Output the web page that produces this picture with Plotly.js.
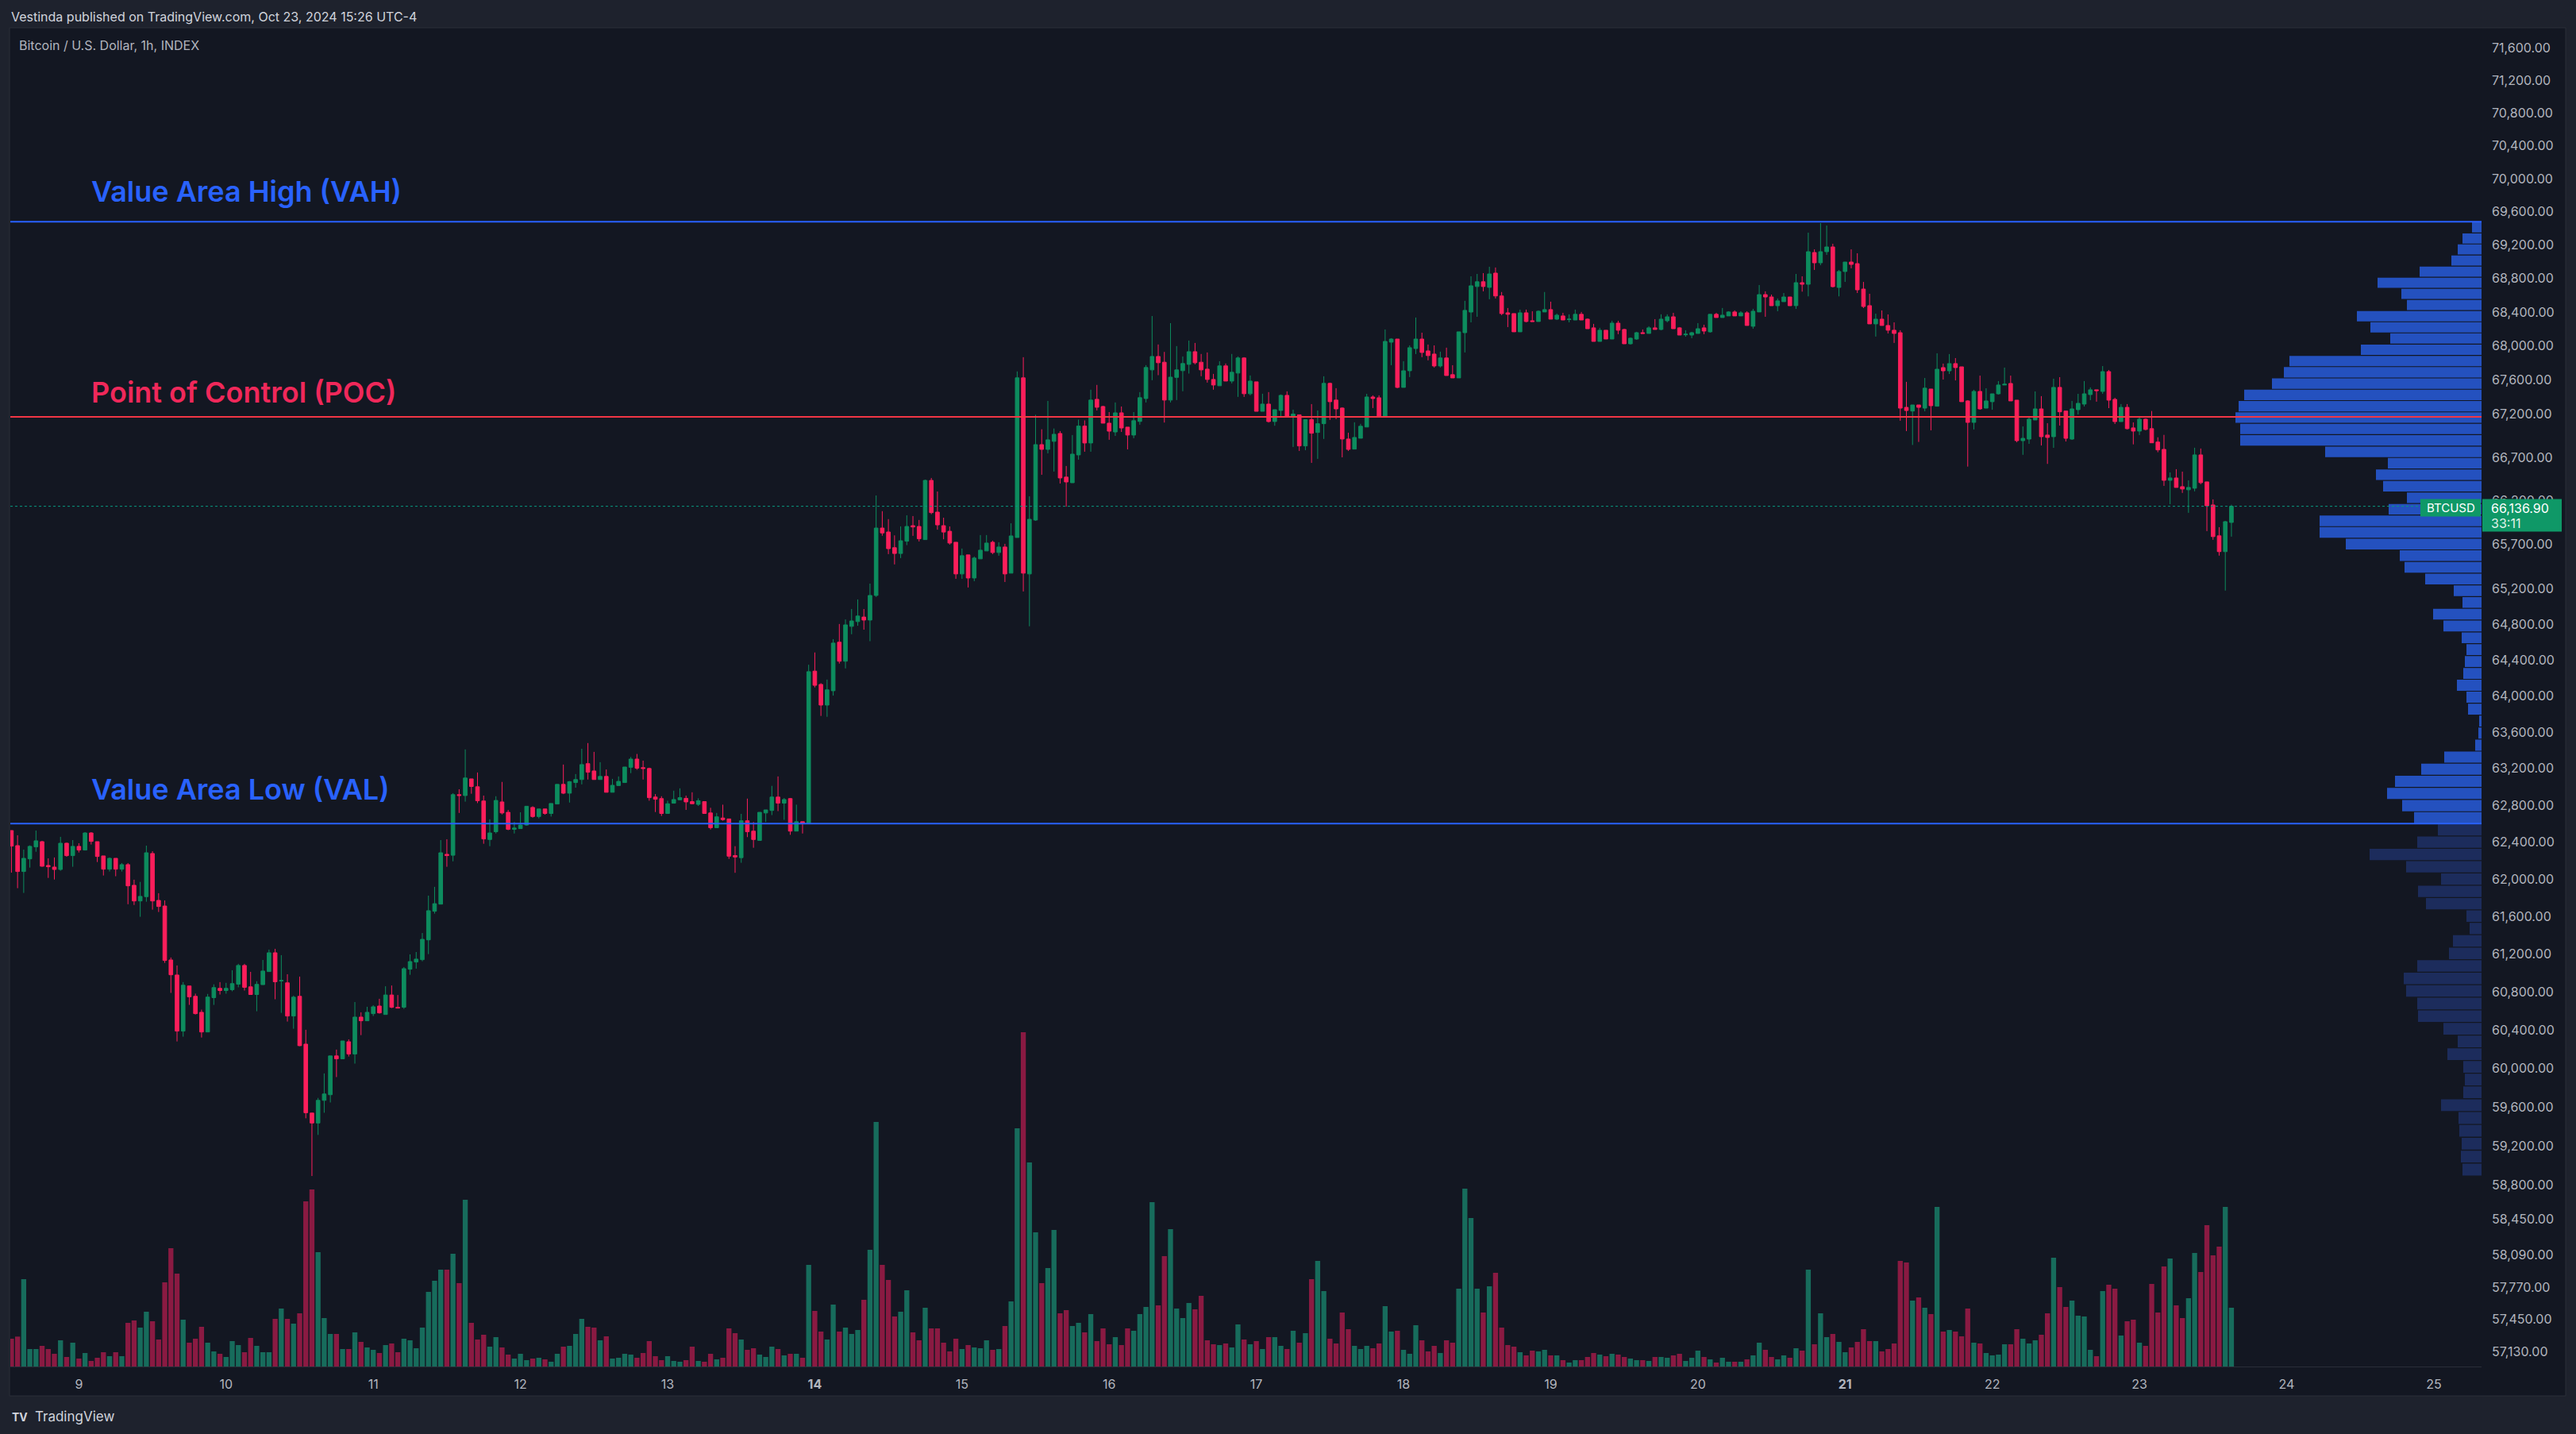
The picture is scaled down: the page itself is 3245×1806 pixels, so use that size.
<!DOCTYPE html>
<html><head><meta charset="utf-8">
<script src="https://cdn.plot.ly/plotly-3.0.1.min.js"></script>
<style>html,body{margin:0;padding:0;background:#1e222d;}#chart{width:3245px;height:1806px;}</style>
</head><body><div id="chart"></div>
<script>
// hourly candles, first bar 2024-10-08 13:00, last bar 2024-10-23 15:00
const firstBar = Date.UTC(2024, 9, 8, 13);
const openP = [
62524,62361,62082,62218,62347,62404,62147,62130,62104,62387,62253,
62353,62313,62498,62404,62250,62107,62224,62107,62156,61934,
61766,61812,62276,61772,61712,61138,60979,60389,60863,60754,
60586,60380,60740,60838,60815,60824,60882,61080,60854,60773,
60877,61015,61214,60916,60896,60547,60754,60253,59538,59435,
59669,59727,60130,60100,60278,60150,60536,60497,60572,60652,
60563,60768,60639,60639,61040,61116,61141,61351,61656,61732,
62267,62257,62914,62904,63086,63000,62845,62427,62511,62835,
62722,62538,62545,62584,62775,62676,62758,62709,62812,63026,
62930,63046,63079,63253,63173,63079,63113,62940,63013,63046,
63213,63303,63209,63200,62888,62871,62709,62821,62858,62874,
62838,62808,62838,62715,62555,62660,62650,62254,62231,62630,
62518,62417,62715,62742,62888,62822,62871,62518,62620,62600,
64275,64127,63898,64057,64598,64385,64775,64829,64880,64846,
65123,65888,65843,65664,65598,65738,65915,65906,65756,66434,
66070,65915,65851,65726,65366,65582,65320,65537,65627,65726,
65609,65672,65375,65780,67625,65366,65979,66847,66792,66885,
66976,66472,66407,66728,67062,66866,67374,67290,67096,66994,
67216,67050,66958,67116,67383,67718,67876,67808,67365,67630,
67709,67783,67932,67808,67727,67606,67532,67765,67587,67681,
67858,67439,67578,67234,67318,67115,67244,67420,67165,67193,
66832,67137,66988,67090,67560,67365,67272,66912,66795,66921,
67051,67401,67392,67179,68044,68081,67513,67708,67969,68081,
67941,67904,67764,67858,67662,67624,68156,68400,68703,68760,
68693,68863,68591,68391,68382,68166,68391,68297,68288,68401,
68429,68316,68354,68310,68306,68373,68316,68213,68053,68185,
68081,68269,68194,68025,68081,68156,68147,68213,68194,68297,
68344,68213,68131,68128,68147,68213,68166,68373,68335,68354,
68401,68354,68391,68232,68401,68607,68579,68475,68523,68579,
68476,68749,68730,69109,68986,69119,69176,68692,68882,68995,
68976,68673,68476,68260,68316,68241,68185,68156,67280,67237,
67308,67271,67494,67293,67745,67707,67792,67754,67355,67105,
67466,67271,67346,67438,67541,67559,67364,66893,66911,67133,
67262,66958,66939,67513,67237,66911,67253,67318,67429,67485,
67466,67698,67373,67114,67280,67041,67004,67142,67032,66877,
66792,66435,66462,66362,66326,66344,66728,66417,66152,65799,65619,65952];
const highP = [
62524,62473,62318,62364,62524,62413,62224,62233,62456,62393,62421,
62387,62507,62507,62404,62250,62233,62224,62173,62173,61994,
61970,62361,62301,61849,61772,61164,61080,60904,60863,60782,
60614,60779,60880,60904,60896,61029,61097,61097,61012,60913,
61138,61248,61256,61189,60987,60762,60962,60403,59538,59694,
59948,60130,60196,60286,60303,60694,60586,60644,60661,60728,
60860,60868,60768,61063,61197,61222,61424,61823,61917,62421,
62430,62930,62973,63409,63086,63156,62904,62646,62897,63053,
62748,62617,62722,62791,62788,62758,62758,62818,63026,63243,
63063,63139,63416,63479,63382,63269,63189,63086,63113,63216,
63326,63359,63286,63209,62920,62897,62848,62957,62983,62904,
62940,62874,62838,62771,62715,62805,62650,62355,62705,62871,
62617,62722,62748,63010,63113,62878,62878,62805,62620,64346,
64483,64141,64181,64632,64802,64853,64970,65078,64970,65257,
66261,66081,65990,65804,65907,66034,66025,65980,66443,66462,
66306,66006,65906,65726,65654,65582,65564,65808,65808,65744,
65726,65708,65942,67700,67867,66251,67193,67025,67355,67034,
67004,66600,66958,67137,67128,67486,67542,67299,67225,67337,
67290,67050,67225,67458,67774,68353,68017,67929,68269,67998,
67876,68063,68035,67905,67923,67671,67820,67793,67905,67876,
67867,67653,67578,67439,67458,67253,67430,67467,67253,67193,
67137,67318,67244,67643,67569,67504,67281,66985,67106,67088,
67438,67420,67420,68194,68091,68081,67820,68006,68335,68156,
68016,68006,67932,67979,67773,68166,68533,68825,68853,68863,
68939,68930,68638,68448,68382,68429,68429,68410,68420,68638,
68523,68382,68391,68373,68429,68401,68325,68260,68213,68185,
68297,68297,68203,68100,68166,68194,68232,68316,68373,68373,
68391,68222,68185,68166,68269,68250,68373,68391,68448,68410,
68420,68410,68410,68438,68721,68646,68607,68561,68626,68579,
68853,68825,69347,69147,69462,69433,69214,68901,68995,69147,
69100,68758,68617,68381,68419,68372,68278,68185,67578,67308,
67308,67623,67494,67913,67792,67904,67857,67754,67364,67485,
67651,67503,67438,67587,67745,67651,67364,67058,67161,67466,
67411,67096,67615,67633,67237,67355,67438,67587,67513,67485,
67763,67717,67392,67318,67318,67105,67161,67151,67237,66932,
66960,66526,66563,66535,66435,66811,66802,66417,66216,65898,65970,66155];
const lowP = [
62070,61903,61852,62124,62295,62133,62013,61996,62090,62241,62133,
62287,62313,62373,62184,62039,62082,62031,62082,61731,61723,
61597,61758,61673,61648,61107,60790,60281,60331,60664,60563,
60322,60380,60664,60773,60782,60807,60849,60815,60773,60597,
60877,61015,60723,60580,60489,60414,60232,59484,58892,59313,
59541,59647,59910,60100,60124,60050,60347,60497,60547,60572,
60563,60630,60630,60622,60981,61046,61124,61200,61631,61732,
62133,62192,62715,62838,62924,62822,62381,62355,62492,62699,
62528,62492,62545,62577,62663,62656,62696,62676,62812,62920,
62828,62990,63026,63079,63079,63079,62940,62940,63013,63046,
63149,63186,63079,62848,62725,62682,62709,62821,62858,62748,
62815,62791,62709,62535,62555,62630,62218,62068,62176,62453,
62338,62417,62617,62692,62735,62640,62478,62518,62492,62600,
64094,63778,63768,64003,64359,64305,64687,64782,64738,64609,
65106,65800,65591,65474,65546,65693,65799,65735,65756,66046,
65869,65760,65699,65311,65311,65213,65284,65537,65627,65591,
65573,65275,65375,65780,65168,64776,65970,66499,66746,66536,
66398,66132,66407,66673,66765,66765,67244,67096,66903,66948,
66994,66792,66921,67078,67337,67597,67656,67103,67337,67365,
67468,67675,67783,67644,67569,67486,67532,67587,67560,67402,
67402,67420,67234,67234,67103,67066,67165,67165,66820,66774,
66783,66636,66682,66913,67134,67143,66700,66774,66795,66921,
67051,67272,67170,67179,67773,67504,67513,67634,67904,67867,
67830,67746,67746,67652,67624,67624,67923,68278,68344,68646,
68552,68561,68363,68222,68166,68166,68278,68288,68288,68401,
68316,68306,68306,68278,68306,68306,68203,68053,68053,68081,
68081,68138,68025,68016,68072,68147,68147,68194,68185,68278,
68203,68128,68109,68091,68147,68138,68156,68335,68335,68354,
68354,68354,68241,68203,68401,68344,68475,68410,68523,68475,
68437,68642,68586,68901,68958,69081,68692,68586,68758,68920,
68626,68447,68260,68110,68241,68147,68035,67124,67004,66843,
66878,67234,67013,67293,67605,67670,67595,67346,66593,67023,
67252,67271,67252,67429,67541,67355,66874,66729,66856,67133,
66837,66624,66810,67068,66883,66902,67197,67290,67364,67346,
67438,67271,67086,67114,67023,66850,66958,67013,66868,66759,
66371,66161,66353,66290,66062,66308,66390,65853,65754,65574,65178,65790];
const closeP = [
62356,62082,62224,62353,62413,62139,62133,62104,62387,62253,62353,
62313,62498,62407,62244,62107,62224,62107,62156,61928,61766,
61815,62284,61766,61707,61133,60981,60389,60871,60748,60572,
60380,60746,60846,60815,60838,60888,61080,60849,60773,60880,
61021,61214,60907,60921,60547,60745,60237,59541,59435,59669,
59735,60130,60100,60286,60150,60536,60497,60586,60644,60580,
60768,60639,60630,61046,61121,61147,61357,61662,61737,62284,
62253,62914,62905,63096,63003,62848,62433,62498,62851,62715,
62538,62551,62584,62788,62676,62758,62709,62818,63026,62930,
63056,63079,63243,63160,63079,63113,62940,63016,63059,63216,
63303,63203,63200,62881,62864,62709,62815,62861,62881,62835,
62815,62848,62709,62555,62673,62643,62247,62238,62630,62511,
62427,62722,62748,62888,62822,62861,62518,62620,62600,64269,
64117,63898,64067,64588,64385,64792,64836,64891,64846,65123,
65888,65832,65653,65598,65743,65906,65900,65765,66434,66064,
65924,65842,65717,65366,65573,65320,65546,65636,65717,65609,
65672,65366,65798,67625,65375,65988,66847,66792,66903,66967,
66462,66416,66737,67062,66866,67365,67281,67096,67003,67216,
67040,66958,67125,67393,67746,67876,67802,67365,67633,67718,
67793,67932,67802,67718,67606,67541,67765,67587,67690,67858,
67439,67587,67234,67318,67115,67253,67420,67165,67202,66832,
67137,66979,67090,67560,67346,67262,66912,66792,66930,67060,
67401,67383,67179,68053,68081,67513,67708,67979,68081,67923,
67886,67764,67858,67652,67624,68166,68420,68712,68760,68703,
68853,68591,68382,68373,68166,68391,68288,68288,68410,68429,
68316,68363,68306,68316,68373,68306,68203,68053,68185,68081,
68269,68185,68025,68091,68156,68147,68213,68194,68316,68344,
68203,68128,68138,68156,68203,68175,68373,68335,68363,68401,
68354,68391,68241,68410,68607,68579,68475,68533,68579,68475,
68749,68730,69119,68986,69119,69176,68702,68882,68995,68967,
68664,68466,68260,68316,68241,68185,68147,67271,67243,67308,
67280,67504,67299,67726,67707,67792,67745,67346,67105,67466,
67262,67355,67438,67541,67550,67355,66893,66920,67142,67262,
66939,66930,67513,67228,66920,67262,67327,67438,67485,67475,
67698,67364,67114,67280,67032,67004,67142,67023,66868,66786,
66435,66462,66353,66335,66353,66728,66408,66143,65790,65619,65961,66136.9];
const volume = [
105,113,330,66,66,78,66,48,99,36,90,
30,51,21,33,54,39,54,39,165,174,
147,207,171,102,318,447,351,177,90,105,
150,90,57,48,36,96,81,54,108,78,
54,54,180,219,180,162,201,624,669,432,
183,123,123,66,66,129,93,72,63,51,
81,87,54,105,99,69,147,282,324,366,
366,426,315,630,165,102,120,75,111,72,
45,30,48,24,30,33,27,18,48,75,
78,123,180,150,147,99,114,30,33,48,
45,33,51,96,39,24,39,21,18,24,
75,21,18,48,27,33,144,126,102,63,
69,45,36,75,66,42,48,48,33,384,
210,132,102,234,132,147,123,138,252,441,
924,384,327,189,207,288,129,99,222,144,
144,90,57,105,66,81,72,69,99,63,
66,153,246,900,1263,771,507,315,372,516,
201,213,153,165,129,198,96,144,84,111,
81,144,135,198,225,621,231,417,519,219,
183,240,216,267,99,84,81,87,72,159,
102,84,96,66,111,111,78,66,135,90,
126,330,399,285,105,87,204,141,78,66,
78,69,87,228,132,135,63,48,156,99,
57,78,51,99,90,294,672,561,294,204,
303,354,147,81,75,54,42,60,57,63,
42,42,24,15,24,24,36,51,45,39,
48,45,36,30,24,24,21,36,36,33,
42,48,21,33,60,36,27,15,33,18,
18,18,27,42,90,63,36,27,42,33,
69,60,366,84,201,111,123,93,54,72,
93,141,96,96,57,66,87,399,393,249,
261,222,198,603,132,138,132,114,219,90,
87,51,42,45,84,84,141,105,87,99,
120,201,411,300,225,249,192,189,63,39,
285,309,294,117,171,177,90,78,312,204,
378,408,231,183,258,429,357,534,420,453,603,222];

// visible-range volume profile, 80 rows from the bottom
const profileBottom = 58892;
const profileRowSize = 132.3;
const profileVolume = [
24,26,25,28,29,51,23,21,23,43,
30,48,80,81,95,98,81,41,36,15,
19,70,80,51,95,141,81,55,85,100,
119,109,76,47,8,4,3,17,19,31,
23,21,19,25,48,61,24,35,71,97,
103,171,204,204,117,94,124,133,118,197,
304,304,310,306,299,264,249,242,152,115,
140,157,94,101,131,78,38,30,24,12];
const vahPrice = 69478, valPrice = 62600, pocPrice = 67170;
const lastPrice = 66136.90;
const countdown = '33:11';

const dayTicks = ['2024-10-09','2024-10-10','2024-10-11','2024-10-12','2024-10-13','2024-10-14','2024-10-15','2024-10-16','2024-10-17','2024-10-18','2024-10-19','2024-10-20','2024-10-21','2024-10-22','2024-10-23','2024-10-24','2024-10-25'];
const dayLabels = ['9','10','11','12','13','<b>14</b>','15','16','17','18','19','20','<b>21</b>','22','23','24','25'];
const priceTicks = [71600,71200,70800,70400,70000,69600,69200,68800,68400,68000,67600,67200,66700,66200,65700,65200,64800,64400,64000,63600,63200,62800,62400,62000,61600,61200,60800,60400,60000,59600,59200,58800,58450,58090,57770,57450,57130];

// ---- geometry of the page (pixels) ----
const W = 3245, H = 1806;
const plotL = 13, plotR = 3126, plotT = 35, plotB = 1721;
const plotW = plotR - plotL, plotH = plotB - plotT;
const px2x = p => (p - plotL) / plotW;
const px2y = p => (plotB - p) / plotH;
const yRange = [Math.log10(71600) - (plotB - 60.6) / 7270 / Math.LN10, Math.log10(71600) + (60.6 - plotT) / 7270 / Math.LN10];
const pxPerLn = plotH / (Math.LN10 * (yRange[1] - yRange[0]));
// price that sits d pixels below (d>0) or above (d<0) a given price on the log axis
const priceAtOffset = (p, d) => p * Math.exp(-d / pxPerLn);

const upColor = '#0d8c5e', downColor = '#fb1e5b';
const volUp = '#176c5c', volDown = '#8a1a42';
const vaColor = '#2451bf', outColor = '#1c2c5c';
const blue = '#2962ff', red = '#f23645', labelGreen = '#0f9867';

const times = openP.map((_, i) => new Date(firstBar + i * 3600000).toISOString().slice(0, 16).replace('T', ' '));

const volTrace = {
  type: 'bar', x: times, y: volume, xaxis: 'x', yaxis: 'y2',
  marker: {color: volume.map((_, i) => closeP[i] >= openP[i] ? volUp : volDown), line: {width: 0}},
  hoverinfo: 'skip'
};
const candleTrace = {
  type: 'candlestick', x: times, open: openP, high: highP, low: lowP, close: closeP,
  xaxis: 'x', yaxis: 'y', whiskerwidth: 0,
  increasing: {line: {color: upColor, width: 1}, fillcolor: upColor},
  decreasing: {line: {color: downColor, width: 1}, fillcolor: downColor},
  hoverinfo: 'skip'
};

const vaX = [], vaY = [], outX = [], outY = [];
profileVolume.forEach((v, k) => {
  const lo = profileBottom + k * profileRowSize;
  const hi = lo + profileRowSize;
  const inset = profileRowSize * 0.04;
  const inVA = lo >= valPrice - profileRowSize / 2 && hi <= vahPrice + profileRowSize / 2;
  const tx = inVA ? vaX : outX, ty = inVA ? vaY : outY;
  tx.push(0, v, v, 0, 0, null);
  ty.push(lo + inset, lo + inset, hi - inset, hi - inset, lo + inset, null);
});
const profVA = {type: 'scatter', mode: 'lines', x: vaX, y: vaY, xaxis: 'x2', yaxis: 'y', fill: 'toself', fillcolor: vaColor, line: {width: 0}, hoverinfo: 'skip'};
const profOut = {type: 'scatter', mode: 'lines', x: outX, y: outY, xaxis: 'x2', yaxis: 'y', fill: 'toself', fillcolor: outColor, line: {width: 0}, hoverinfo: 'skip'};

const fmt = v => v.toLocaleString('en-US', {minimumFractionDigits: 2, maximumFractionDigits: 2});
const tickFont = {family: 'Inter, Roboto, sans-serif', size: 16, color: '#b2b5be'};

const layout = {
  width: W, height: H,
  margin: {l: plotL, r: W - plotR, t: plotT, b: H - plotB, pad: 0},
  paper_bgcolor: '#1e222d', plot_bgcolor: 'rgba(0,0,0,0)',
  font: {family: 'Inter, Roboto, sans-serif', color: '#d1d4dc'},
  showlegend: false, bargap: 0.18, boxgap: 0.4, boxgroupgap: 0,
  xaxis: {type: 'date', range: ['2024-10-08 12:49', '2024-10-25 07:47'], tickvals: dayTicks, ticktext: dayLabels,
    showgrid: false, zeroline: false, showline: true, linecolor: '#2a2e39', linewidth: 1, ticks: '',
    tickfont: tickFont, ticklabelstandoff: 8, rangeslider: {visible: false}, fixedrange: true},
  xaxis2: {overlaying: 'x', range: [plotW, 0], visible: false, fixedrange: true},
  yaxis: {type: 'log', side: 'right', range: yRange,
    tickvals: priceTicks, ticktext: priceTicks.map(fmt), showgrid: false, zeroline: false, ticks: '',
    tickfont: tickFont, ticklabelstandoff: 12, fixedrange: true},
  yaxis2: {overlaying: 'y', range: [0, plotH * 3], visible: false, fixedrange: true},
  shapes: [
    {type: 'rect', xref: 'paper', yref: 'paper', x0: px2x(12), x1: px2x(3232), y0: px2y(1758), y1: px2y(35),
      fillcolor: '#131722', line: {color: '#2a2e39', width: 1}, layer: 'below'},
    {type: 'line', xref: 'paper', yref: 'y', x0: 0, x1: 1, y0: lastPrice, y1: lastPrice, line: {color: '#089981', width: 1, dash: 'dot'}, layer: 'above'},
    {type: 'line', xref: 'paper', yref: 'y', x0: 0, x1: 1, y0: vahPrice, y1: vahPrice, line: {color: blue, width: 2}, layer: 'above'},
    {type: 'line', xref: 'paper', yref: 'y', x0: 0, x1: 1, y0: valPrice, y1: valPrice, line: {color: blue, width: 2}, layer: 'above'},
    {type: 'line', xref: 'paper', yref: 'y', x0: 0, x1: 1, y0: pocPrice, y1: pocPrice, line: {color: red, width: 2}, layer: 'above'},
    {type: 'rect', xref: 'paper', yref: 'y', x0: px2x(3049), x1: px2x(3125),
      y0: priceAtOffset(lastPrice, 13), y1: priceAtOffset(lastPrice, -9),
      fillcolor: labelGreen, line: {width: 0}, layer: 'above'},
    {type: 'rect', xref: 'paper', yref: 'y', x0: px2x(3127), x1: px2x(3227),
      y0: priceAtOffset(lastPrice, 32), y1: priceAtOffset(lastPrice, -9),
      fillcolor: labelGreen, line: {width: 0}, layer: 'above'}
  ],
  annotations: [
    {xref: 'paper', yref: 'paper', x: px2x(12), y: px2y(20.7), xanchor: 'left', yanchor: 'middle', showarrow: false,
      text: 'Vestinda published on TradingView.com, Oct 23, 2024 15:26 UTC-4', font: {size: 16, color: '#d1d4dc'}},
    {xref: 'paper', yref: 'paper', x: px2x(22), y: px2y(56.7), xanchor: 'left', yanchor: 'middle', showarrow: false,
      text: 'Bitcoin / U.S. Dollar, 1h, INDEX', font: {size: 16, color: '#b2b5be'}},
    {xref: 'paper', yref: 'y', x: px2x(113), y: Math.log10(vahPrice), yshift: 38, xanchor: 'left', yanchor: 'middle', showarrow: false,
      text: 'Value Area High (VAH)', font: {size: 36, color: blue, weight: 600}},
    {xref: 'paper', yref: 'y', x: px2x(113), y: Math.log10(pocPrice), yshift: 31, xanchor: 'left', yanchor: 'middle', showarrow: false,
      text: 'Point of Control (POC)', font: {size: 36, color: '#f0285a', weight: 600}},
    {xref: 'paper', yref: 'y', x: px2x(113), y: Math.log10(valPrice), yshift: 43, xanchor: 'left', yanchor: 'middle', showarrow: false,
      text: 'Value Area Low (VAL)', font: {size: 36, color: blue, weight: 600}},
    {xref: 'paper', yref: 'y', x: px2x(3087), y: Math.log10(lastPrice), yshift: -2, xanchor: 'center', yanchor: 'middle', showarrow: false,
      text: 'BTCUSD', font: {size: 15, color: '#ffffff'}},
    {xref: 'paper', yref: 'y', x: px2x(3136), y: Math.log10(lastPrice), yshift: -2, xanchor: 'left', yanchor: 'middle', showarrow: false,
      text: fmt(lastPrice), font: {size: 16, color: '#ffffff'}},
    {xref: 'paper', yref: 'y', x: px2x(3136), y: Math.log10(lastPrice), yshift: -21, xanchor: 'left', yanchor: 'middle', showarrow: false,
      text: countdown, font: {size: 16, color: '#e0f2ea'}},
    {xref: 'paper', yref: 'paper', x: px2x(13), y: px2y(1784), xanchor: 'left', yanchor: 'middle', showarrow: false,
      text: '<b>TV</b>', font: {size: 14, color: '#d1d4dc'}},
    {xref: 'paper', yref: 'paper', x: px2x(42), y: px2y(1784), xanchor: 'left', yanchor: 'middle', showarrow: false,
      text: 'TradingView', font: {size: 17, color: '#d1d4dc'}}
  ]
};

Plotly.newPlot('chart', [volTrace, candleTrace, profOut, profVA], layout, {staticPlot: true});
</script>
</body></html>
